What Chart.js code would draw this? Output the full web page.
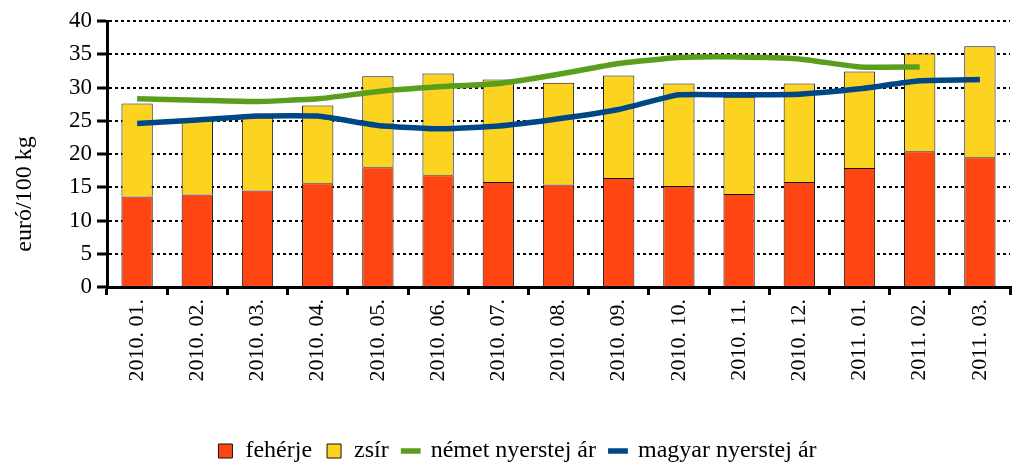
<!DOCTYPE html>
<html>
<head>
<meta charset="utf-8">
<script src="https://cdn.jsdelivr.net/npm/chart.js@4.4.1/dist/chart.umd.min.js"></script>
<style>
  html, body { margin: 0; padding: 0; background: #fff; }
  #wrap { width: 1021px; height: 463px; }
</style>
</head>
<body>
<div id="wrap"><canvas id="chart" width="1021" height="463"></canvas></div>
<script>
const months = ["2010. 01.", "2010. 02.", "2010. 03.", "2010. 04.", "2010. 05.", "2010. 06.", "2010. 07.", "2010. 08.",
                "2010. 09.", "2010. 10.", "2010. 11.", "2010. 12.", "2011. 01.", "2011. 02.", "2011. 03."];
const feherje = [13.6, 13.9, 14.5, 15.6, 18.0, 16.8, 15.8, 15.4, 16.4, 15.2, 14.0, 15.8, 17.9, 20.4, 19.5];
const zsir = [14.0, 11.3, 11.0, 11.7, 13.7, 15.3, 15.4, 15.3, 15.4, 15.4, 14.6, 14.8, 14.5, 14.7, 16.7];
const nemetAr = [28.3, 28.1, 27.9, 28.3, 29.4, 30.1, 30.6, 32.0, 33.6, 34.5, 34.6, 34.3, 33.1, 33.1, null];
const magyarAr = [24.6, 25.1, 25.7, 25.7, 24.3, 23.8, 24.2, 25.3, 26.7, 28.9, 28.9, 29.0, 29.8, 31.0, 31.2];
const yTicks = [0, 5, 10, 15, 20, 25, 30, 35, 40];
const yTitle = "euró/100 kg";

const font = "'Liberation Serif', 'DejaVu Serif', serif";
Chart.defaults.font.family = font;
Chart.defaults.color = "#000";

// y title sits lower than the axis middle in the original, legend a bit lower/right too
const tweaks = {
    id: "tweaks",
    afterLayout(chart) {
        const lg = chart.legend;
        const h = lg.bottom - lg.top;
        lg.top = 425;
        lg.bottom = lg.top + h;
        lg.left += 12;
        lg.right += 12;
    },
    afterDraw(chart) {
        const c = chart.ctx;
        c.save();
        c.translate(25, 194);
        c.rotate(-Math.PI / 2);
        c.font = "24px " + font;
        c.fillStyle = "#000";
        c.textAlign = "center";
        c.textBaseline = "middle";
        c.fillText(yTitle, 0, 0);
        c.restore();
    }
};

const ctx = document.getElementById("chart").getContext("2d");
new Chart(ctx, {
    type: "bar",
    data: {
        labels: months,
        datasets: [
            { label: "fehérje", data: feherje, backgroundColor: "#FF4511", borderColor: "#111",
              borderWidth: 1, stack: "s", order: 2, barPercentage: 0.52, categoryPercentage: 1, pointStyle: "rect" },
            { label: "zsír", data: zsir, backgroundColor: "#FDD321", borderColor: "#111",
              borderWidth: 1, stack: "s", order: 2, barPercentage: 0.52, categoryPercentage: 1, pointStyle: "rect" },
            { type: "line", label: "német nyerstej ár", data: nemetAr, borderColor: "#5A9E1E", backgroundColor: "#5A9E1E",
              borderWidth: 5.5, pointRadius: 0, tension: 0.15, stack: "g", order: 1, pointStyle: "line", spanGaps: false },
            { type: "line", label: "magyar nyerstej ár", data: magyarAr, borderColor: "#004785", backgroundColor: "#004785",
              borderWidth: 5.5, pointRadius: 0, tension: 0.15, stack: "b", order: 0, pointStyle: "line" }
        ]
    },
    options: {
        responsive: false,
        animation: false,
        layout: { padding: { left: 0, right: 11, top: 21, bottom: 2 } },
        plugins: {
            legend: {
                position: "bottom",
                labels: {
                    usePointStyle: true,
                    boxWidth: 16,
                    boxHeight: 14,
                    font: { size: 24 },
                    padding: 14,
                    sort: (a, b) => a.datasetIndex - b.datasetIndex
                }
            },
            tooltip: { enabled: false }
        },
        scales: {
            x: {
                stacked: true,
                offset: true,
                grid: { display: true, drawOnChartArea: false, drawTicks: true, tickLength: 8, color: "#000", lineWidth: 3, offset: true },
                border: { color: "#000", width: 3 },
                ticks: { maxRotation: 90, minRotation: 90, padding: 4, font: { size: 22 } },
                afterFit: scale => { scale.height = 126; }
            },
            y: {
                stacked: true,
                min: 0,
                max: 40,
                afterBuildTicks: scale => { scale.ticks = yTicks.map(v => ({ value: v })); },
                grid: { color: "#000", lineWidth: 2, tickLength: 10, tickBorderDash: [], tickWidth: 3 },
                border: { color: "#000", width: 3, dash: [3, 3] },
                ticks: { padding: 5, font: { size: 23 } },
                title: { display: false },
                afterFit: scale => { scale.width = 107; }
            }
        }
    },
    plugins: [tweaks]
});
</script>
</body>
</html>
